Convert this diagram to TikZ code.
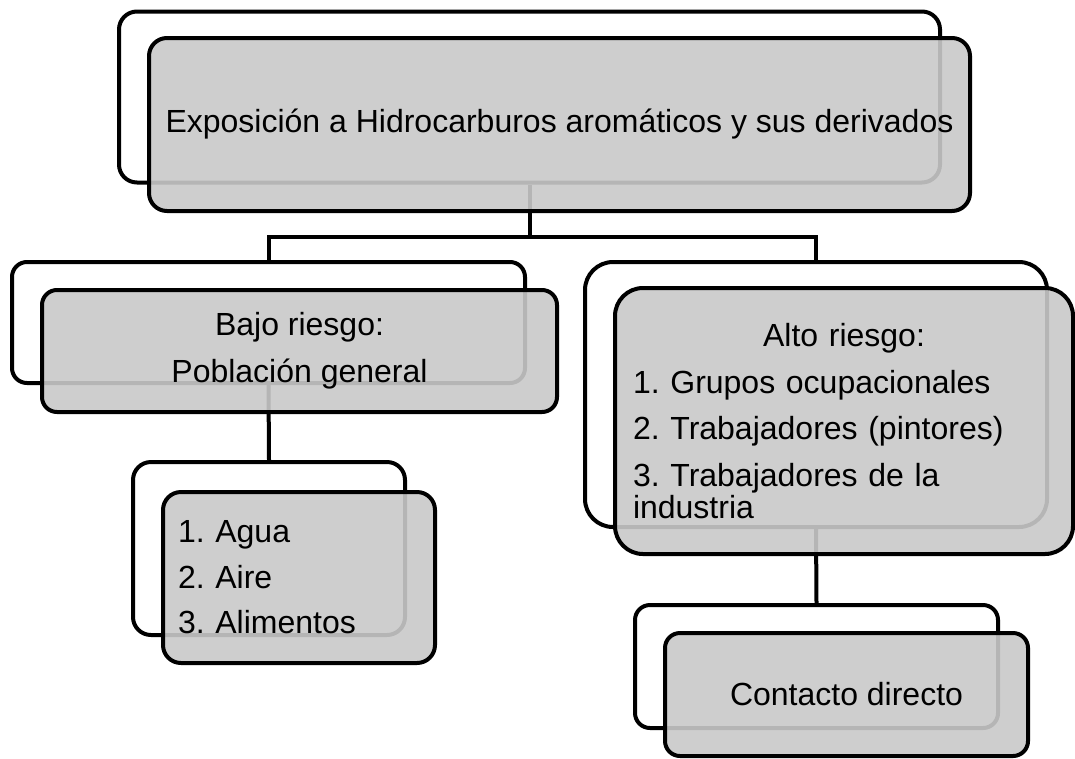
\documentclass[tikz,border=0pt]{standalone}
\usepackage{fontspec}
\setmainfont{Liberation Sans}
\frenchspacing
\begin{document}
\begin{tikzpicture}[x=1pt,y=-1pt,
  back/.style={draw=black,line width=4pt,fill=white,inner sep=0pt},
  front/.style={draw=black,line width=4pt,fill=black!21,fill opacity=0.9,text opacity=1,inner sep=0pt,font=\fontsize{32}{32}\selectfont\frenchspacing},
  link/.style={draw=black,line width=4pt}]
\useasboundingbox (0,0) rectangle (1075,758);
% back boxes
\node[back, rounded corners=18pt, minimum width=821pt, minimum height=171pt] (tb) at (529.5,97) {};
\node[back, rounded corners=15pt, minimum width=513pt, minimum height=121pt] (bb) at (268.5,322.5) {};
\node[back, rounded corners=18pt, minimum width=272pt, minimum height=173pt] (gb) at (269,548.5) {};
\node[back, rounded corners=28pt, minimum width=462pt, minimum height=265pt] (ab) at (816,394.5) {};
\node[back, rounded corners=15pt, minimum width=363pt, minimum height=123pt] (cb) at (816.5,666.5) {};
% connectors
\coordinate (jn) at (529.5,237);
\draw[link] (tb.south) -- (jn);
\draw[link] (bb.north) |- (jn) -| (ab.north);
\draw[link] (bb.south) -- (gb.north);
\draw[link] (ab.south) -- (cb.north);
% front boxes
\node[front, rounded corners=18pt, minimum width=821pt, minimum height=173pt] (tf) at (559.5,124.5) {Exposición a Hidrocarburos aromáticos y sus derivados};
\node[front, rounded corners=15pt, minimum width=515pt, minimum height=122pt, align=center] (bf) at (299.5,351) {Bajo riesgo:\\[15pt]Población general};
\node[front, rounded corners=18pt, minimum width=272pt, minimum height=171pt, text width=242pt, inner xsep=15pt, align=left] (gf) at (299,577.5) {1. Agua\\[13.5pt]2. Aire\\[13.5pt]3. Alimentos};
\node[front, rounded corners=28pt, minimum width=458pt, minimum height=266pt, text width=422pt, inner xsep=18pt, align=left] (af) at (844,421) {\makebox[\linewidth]{Alto riesgo:}\\[14.5pt]1. Grupos ocupacionales\\[14.5pt]2. Trabajadores (pintores)\\[14.5pt]3. Trabajadores de la\\industria};
\node[front, rounded corners=15pt, minimum width=363pt, minimum height=123pt] (cf) at (846.5,694.5) {Contacto directo};
\end{tikzpicture}
\end{document}
